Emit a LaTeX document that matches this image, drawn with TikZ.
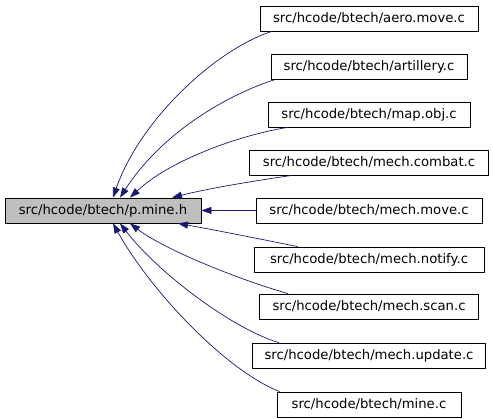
\documentclass[tikz,border=0pt]{standalone}
\usepackage{fontspec}
\setmainfont{DejaVu Sans}
\usetikzlibrary{arrows.meta,calc}
\definecolor{edgeblue}{HTML}{191970}
\definecolor{nodegray}{HTML}{BFBFBF}
\begin{document}
\begin{tikzpicture}[x=1pt,y=-1pt,
  box/.style={draw=black,line width=0.8pt,minimum height=25pt,inner sep=0pt,
    font=\fontsize{13.2}{15}\selectfont},
  dep/.style={draw=edgeblue,line width=0.7pt,
    -{Triangle[length=10pt,width=7pt]}}]
\useasboundingbox (0,0) rectangle (493,419);
\node[box,fill=nodegray,minimum width=196pt] (pmine) at (103,210.5) {src/hcode/btech/p.mine.h};
\node[box,minimum width=218pt] (aero) at (369,18.5) {src/hcode/btech/aero.move.c};
\node[box,minimum width=196pt] (art) at (369,66.5) {src/hcode/btech/artillery.c};
\node[box,minimum width=202pt] (map) at (369,114.5) {src/hcode/btech/map.obj.c};
\node[box,minimum width=239pt] (combat) at (369,162.5) {src/hcode/btech/mech.combat.c};
\node[box,minimum width=226pt] (move) at (369,210.5) {src/hcode/btech/mech.move.c};
\node[box,minimum width=230pt] (notify) at (369,259.5) {src/hcode/btech/mech.notify.c};
\node[box,minimum width=219pt] (scan) at (369,306.5) {src/hcode/btech/mech.scan.c};
\node[box,minimum width=233pt] (update) at (369,355.5) {src/hcode/btech/mech.update.c};
\node[box,minimum width=184pt] (mine) at (369,404.5) {src/hcode/btech/mine.c};
% edges
\draw[dep] ($(aero.south west)+(12,0)$) .. controls (215,50) and (140,120) .. ($(pmine.north)+(10,0)$);
\draw[dep] ($(art.south west)+(5,0)$) .. controls (235,92) and (165,128) .. ($(pmine.north)+(17,0)$);
\draw[dep] ($(map.south west)+(20,0)$) .. controls (240,135) and (170,160) .. ($(pmine.north)+(27,0)$);
\draw[dep] ($(combat.south west)+(43,0)$) .. controls (260,180) and (210,188) .. ($(pmine.north)+(69,0)$);
\draw[dep] (move.west) -- (pmine.east);
\draw[dep] ($(notify.north west)+(44,0)$) .. controls (265,240) and (215,230) .. ($(pmine.south)+(75,0)$);
\draw[dep] ($(scan.north west)+(29,0)$) .. controls (240,280) and (165,250) .. ($(pmine.south)+(27,0)$);
\draw[dep] ($(update.north west)+(27,0)$) .. controls (235,330) and (160,275) .. ($(pmine.south)+(17,0)$);
\draw[dep] ($(mine.north west)+(3,0)$) .. controls (225,370) and (150,290) .. ($(pmine.south)+(10,0)$);
\end{tikzpicture}
\end{document}
